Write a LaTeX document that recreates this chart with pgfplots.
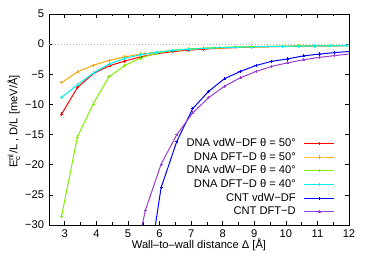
\documentclass[border=0pt]{standalone}
\usepackage{pgfplots}
\pgfplotsset{compat=1.18}
\usepackage{amsmath}
\usepackage{fontspec}
\setmainfont{Liberation Sans}
\definecolor{cred}{RGB}{255,0,0}
\definecolor{corange}{RGB}{255,165,0}
\definecolor{cgreen}{RGB}{127,240,0}
\definecolor{ccyan}{RGB}{0,240,240}
\definecolor{cblue}{RGB}{0,0,255}
\definecolor{cpurple}{RGB}{155,60,210}
\begin{document}
\fontsize{11.2}{13}\selectfont
\begin{tikzpicture}
\begin{axis}[
  scale only axis, width=300bp, height=211bp,
  at={(0,0)}, anchor=south west,
  xmin=2.5, xmax=12, ymin=-30, ymax=5,
  xtick={3,4,5,6,7,8,9,10,11,12},
  minor xtick={3.5,4.5,5.5,6.5,7.5,8.5,9.5,10.5,11.5},
  ytick={-30,-25,-20,-15,-10,-5,0,5},
  yticklabels={−30,−25,−20,−15,−10,−5,0,5},
  /pgf/number format/assume math mode=true,
  tick align=inside, tick pos=both,
  major tick length=4bp, minor tick length=2.5bp,
  every tick/.style={black, line width=0.6pt},
  axis line style={line width=0.8pt},
  ticklabel style={font=\fontsize{11.2}{13}\selectfont},
  xticklabel style={yshift=-1bp},
  yticklabel style={xshift=-1bp},
  xlabel={Wall–to–wall distance Δ [Å]},
  ylabel={E$^{\text{nl}}_{\text{c}}$/L , D/L  [meV/Å]},
  xlabel style={at={(axis description cs:0.5,-0.095)}, anchor=center},
  ylabel style={at={(axis description cs:-0.117,0.49)}, anchor=center},
  legend plot pos=right,
  legend cell align=right,
  legend style={draw=none, fill=none, at={(axis description cs:1,0)}, anchor=south east,
    xshift=-11bp, yshift=5bp, row sep=1.7bp,
    nodes={inner sep=1bp, text height=8bp, text depth=2bp, font=\fontsize{11.2}{13}\selectfont}},
  legend image code/.code={\path (0bp,0bp); \draw[mark repeat=2,mark phase=2,#1] plot coordinates {(7bp,0bp) (22bp,0bp) (37bp,0bp)};},
  every axis plot/.append style={line width=1pt, mark=+, mark size=1.6pt, mark options={line width=0.6pt}},
]
\addplot[gray!60, dotted, line width=0.8pt, mark=none, forget plot] coordinates {(2.5,0) (12,0)};
\addplot[cred] coordinates {(2.9,-11.6) (3.4,-7.2) (3.9,-4.9) (4.4,-3.6) (4.9,-2.8) (5.4,-2.1) (5.9,-1.6) (6.4,-1.25) (6.9,-1.0) (7.4,-0.82) (7.9,-0.68) (8.4,-0.57) (8.9,-0.49) (9.4,-0.43) (9.9,-0.38) (10.4,-0.34) (10.9,-0.31) (11.4,-0.28) (11.9,-0.26)};
\addlegendentry{DNA vdW−DF θ = 50°}
\addplot[corange] coordinates {(2.9,-6.4) (3.4,-4.6) (3.9,-3.5) (4.4,-2.7) (4.9,-2.1) (5.4,-1.65) (5.9,-1.35) (6.4,-1.1) (6.9,-0.9) (7.4,-0.75) (7.9,-0.64) (8.4,-0.55) (8.9,-0.48) (9.4,-0.42) (9.9,-0.37) (10.4,-0.33) (10.9,-0.3) (11.4,-0.27) (11.9,-0.25)};
\addlegendentry{DNA DFT−D θ = 50°}
\addplot[cgreen] coordinates {(2.9,-28.5) (3.4,-15.4) (3.9,-9.9) (4.4,-5.4) (4.9,-3.55) (5.4,-2.3) (5.9,-1.5) (6.4,-1.05) (6.9,-0.8) (7.4,-0.65) (7.9,-0.55) (8.4,-0.47) (8.9,-0.41) (9.4,-0.37) (9.9,-0.33) (10.4,-0.3) (10.9,-0.28) (11.4,-0.26) (11.9,-0.24)};
\addlegendentry{DNA vdW−DF θ = 40°}
\addplot[ccyan] coordinates {(2.9,-8.8) (3.4,-6.75) (3.9,-4.8) (4.4,-3.3) (4.9,-2.35) (5.4,-1.75) (5.9,-1.35) (6.4,-1.05) (6.9,-0.85) (7.4,-0.7) (7.9,-0.6) (8.4,-0.5) (8.9,-0.45) (9.4,-0.4) (9.9,-0.36) (10.4,-0.33) (10.9,-0.3) (11.4,-0.28) (11.9,-0.26)};
\addlegendentry{DNA DFT−D θ = 40°}
\addplot[cblue] coordinates {(5.55,-41) (6.05,-23.8) (6.55,-16.1) (7.05,-10.7) (7.55,-7.85) (8.05,-5.75) (8.55,-4.55) (9.05,-3.55) (9.55,-2.85) (10.05,-2.45) (10.55,-1.95) (11.05,-1.65) (11.55,-1.4) (12.05,-1.2)};
\addlegendentry{CNT vdW−DF}
\addplot[cpurple] coordinates {(5.05,-40) (5.55,-27.6) (6.05,-19.9) (6.55,-15.0) (7.05,-11.4) (7.55,-8.9) (8.05,-7.0) (8.55,-5.6) (9.05,-4.55) (9.55,-3.7) (10.05,-3.1) (10.55,-2.6) (11.05,-2.2) (11.55,-1.9) (12.05,-1.6)};
\addlegendentry{CNT DFT−D}
\end{axis}
\pgfresetboundingbox
\path[use as bounding box] (-49bp,-37bp) rectangle (325bp,225bp);
\end{tikzpicture}
\end{document}
